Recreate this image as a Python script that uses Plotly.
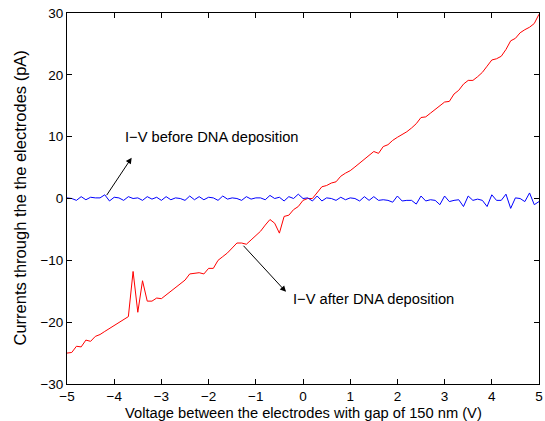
import plotly.graph_objects as go

voltage = [round(-5 + 0.1 * i, 1) for i in range(101)]

current_after = [
    -25.0, -24.9, -23.9, -24.0, -22.9, -23.1, -22.3, -22.0, -21.5, -21.0,
    -20.6, -20.1, -19.5, -19.1, -11.8, -18.4, -13.3, -16.6, -16.6, -16.1,
    -16.2, -15.6, -15.0, -14.5, -13.9, -13.2, -12.2, -12.1, -12.0, -12.2,
    -11.3, -11.3, -10.0, -9.4, -8.8, -8.0, -7.2, -7.2, -7.4, -6.7,
    -6.0, -5.3, -4.3, -3.4, -4.0, -5.6, -2.9, -2.7, -1.8, -1.3,
    -0.3, 0.0, 0.0, 0.9, 1.9, 2.1, 2.5, 2.7, 3.6, 4.1,
    4.5, 5.1, 5.7, 6.3, 6.9, 7.6, 7.3, 8.4, 8.7, 9.4,
    9.9, 10.3, 10.8, 11.4, 12.1, 13.1, 13.2, 13.8, 14.4, 15.1,
    15.6, 15.7, 16.9, 17.5, 18.5, 19.1, 19.1, 19.7, 20.4, 21.4,
    22.4, 22.6, 23.0, 24.1, 25.5, 25.9, 26.8, 27.3, 27.7, 28.3,
    29.8,
]

current_before = [
    0.1, 0.0, -0.3, 0.3, -0.2, 0.2, 0.1, 0.1, 0.6, -0.4,
    0.2, 0.1, -0.3, 0.3, 0.0, 0.1, -0.3, 0.3, -0.1, 0.2,
    -0.3, 0.3, -0.2, 0.1, 0.0, -0.3, 0.4, -0.2, 0.3, -0.2,
    0.2, 0.1, -0.3, 0.4, -0.1, 0.1, 0.0, -0.3, 0.3, -0.1,
    0.1, 0.1, -0.2, 0.5, 0.0, 0.2, -0.4, 0.3, 0.0, 0.7,
    0.0, 0.1, -0.4, 0.4, -0.4, 0.1, 0.0, -0.3, 0.2, -0.2,
    0.1, 0.0, -0.4, 0.3, -0.3, 0.3, -0.3, -0.2, -0.3, -0.6,
    0.4, -0.4, -0.3, -0.3, -0.9, 0.4, -0.4, -0.2, -0.3, -1.0,
    0.4, -0.5, -0.3, -0.2, -1.3, 0.4, -0.3, -0.1, -0.3, -1.3,
    0.6, -0.3, -0.3, 0.7, -1.6, 0.1, 0.0, -0.5, 0.9, -1.0,
    -0.5,
]

x_ticks = [-5, -4, -3, -2, -1, 0, 1, 2, 3, 4, 5]
y_ticks = [-30, -20, -10, 0, 10, 20, 30]

label_before = "I\u2212V before DNA deposition"
label_after = "I\u2212V after DNA deposition"
x_title = "Voltage between the electrodes with gap of 150 nm (V)"
y_title = "Currents through the the electrodes (pA)"

FONT = "Liberation Sans, Arial, Helvetica, sans-serif"

fig = go.Figure()
fig.add_trace(go.Scatter(x=voltage, y=current_after, mode="lines",
                         line=dict(color="#ff0000", width=1), showlegend=False))
fig.add_trace(go.Scatter(x=voltage, y=current_before, mode="lines",
                         line=dict(color="#0000ff", width=1), showlegend=False))

axis_common = dict(showline=True, linecolor="black", linewidth=1, mirror="ticks",
                   ticks="inside", ticklen=5, tickcolor="black", tickwidth=1,
                   showgrid=False, zeroline=False, automargin=False,
                   tickfont=dict(family=FONT, size=13.5, color="black"))

fig.update_xaxes(range=[-5, 5], tickvals=x_ticks, ticklabelstandoff=0, **axis_common)
fig.update_yaxes(range=[-30, 30], tickvals=y_ticks, **axis_common)

# arrows
fig.add_annotation(x=-3.63, y=6.6, ax=-4.18, ay=0.3, xref="x", yref="y",
                   axref="x", ayref="y", text="", showarrow=True,
                   arrowhead=2, arrowsize=1.2, arrowwidth=1, arrowcolor="black")
fig.add_annotation(x=-0.36, y=-15.1, ax=-1.29, ay=-7.4, xref="x", yref="y",
                   axref="x", ayref="y", text="", showarrow=True,
                   arrowhead=2, arrowsize=1.2, arrowwidth=1, arrowcolor="black")
# labels
fig.add_annotation(x=-3.81, y=10.0, xref="x", yref="y", text=label_before,
                   showarrow=False, xanchor="left", yanchor="middle",
                   font=dict(family=FONT, size=14.7, color="black"))
fig.add_annotation(x=-0.26, y=-16.3, xref="x", yref="y", text=label_after,
                   showarrow=False, xanchor="left", yanchor="middle",
                   font=dict(family=FONT, size=14.7, color="black"))
# axis titles
fig.add_annotation(x=0.5, y=-(412.5 - 384) / 371, xref="paper", yref="paper",
                   text=x_title, showarrow=False, xanchor="center", yanchor="middle",
                   font=dict(family=FONT, size=14.7, color="black"))
fig.add_annotation(x=-(67 - 19) / 472, y=0.5, xref="paper", yref="paper",
                   text=y_title, showarrow=False, textangle=-90,
                   xanchor="center", yanchor="middle",
                   font=dict(family=FONT, size=16.5, color="black"))

fig.update_layout(width=545, height=421,
                  margin=dict(l=67, r=6, t=13, b=37),
                  paper_bgcolor="white", plot_bgcolor="white")

fig.write_html("out.html")
